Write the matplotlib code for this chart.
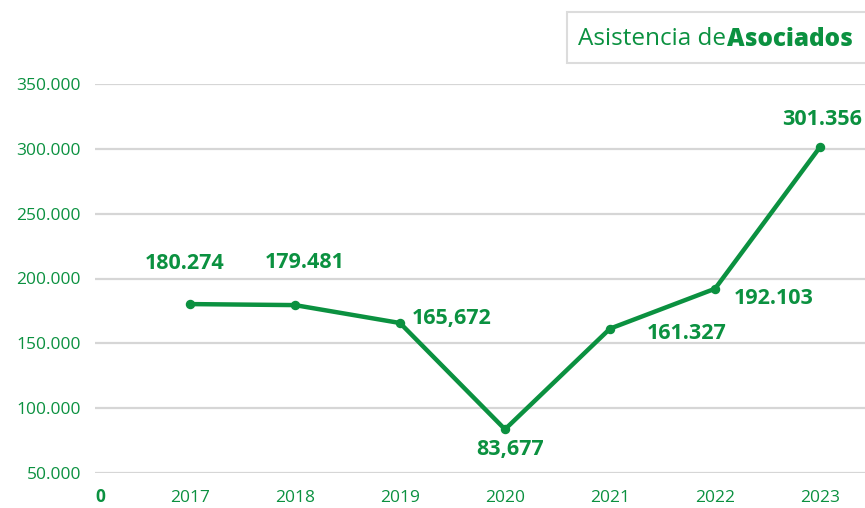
import matplotlib
matplotlib.use("Agg")
import matplotlib.pyplot as plt
from matplotlib.patches import Rectangle

plt.rcParams['font.family'] = ['Open Sans', 'DejaVu Sans']

years = [2017, 2018, 2019, 2020, 2021, 2022, 2023]
values = [180274, 179481, 165672, 83677, 161327, 192103, 301356]
value_labels = ["180.274", "179.481", "165,672", "83,677", "161.327", "192.103", "301.356"]
y_ticks = [50000, 100000, 150000, 200000, 250000, 300000, 350000]
y_tick_labels = ["50.000", "100.000", "150.000", "200.000", "250.000", "300.000", "350.000"]
title_regular = "Asistencia de"
title_bold = "Asociados"

GREEN = "#0b9140"
W, H = 865, 508
fig = plt.figure(figsize=(W / 100, H / 100), dpi=100)

left, right = 95, 865
top_px, bot_px = 84, 473
ax = fig.add_axes([left / W, 1 - bot_px / H, (right - left) / W, (bot_px - top_px) / H])
ax.set_ylim(50000, 350000)
sp = 105
ax.set_xlim(2017 - (190 - left) / sp, 2023 + (right - 820) / sp)

ax.set_yticks(y_ticks)
ax.set_yticklabels(y_tick_labels)
ax.set_xticks(years)
ax.set_xticklabels([str(y) for y in years])
ax.tick_params(axis='both', length=0, labelcolor=GREEN, labelsize=12.5)
ax.tick_params(axis='y', pad=10)
ax.tick_params(axis='x', pad=12)
for s in ax.spines.values():
    s.set_visible(False)
ax.grid(axis='y', color='#d6d6d6', linewidth=1.6)
ax.set_axisbelow(True)

ax.plot(years, values, color=GREEN, linewidth=3.2, marker='o', markersize=5.8,
        solid_capstyle='round', clip_on=False, zorder=3)

offsets = [(-5, 41), (10, 43), (52, 5), (5, -20), (77, -5), (59, -10), (2, 28)]
for x, v, lab, off in zip(years, values, value_labels, offsets):
    ax.annotate(lab, (x, v), xytext=off, textcoords='offset pixels',
                ha='center', va='center', color=GREEN, fontsize=15.5,
                fontweight='bold', annotation_clip=False)

fig.text(100 / W, 1 - 497 / H, "0", color=GREEN, fontsize=12.5, fontweight='bold',
         ha='center', va='center')

fig.patches.append(Rectangle((567 / W, 1 - 63 / H), (W - 567 + 5) / W, 51 / H,
                             transform=fig.transFigure, facecolor='white',
                             edgecolor='#dcdcdc', linewidth=1.5))
t1 = fig.text(578 / W, 1 - 39 / H, title_regular, color=GREEN, fontsize=17.5,
              ha='left', va='center')
fig.canvas.draw()
bb = t1.get_window_extent()
fig.text((bb.x1 + 1) / W, 1 - 39 / H, title_bold, color=GREEN, fontsize=17.5,
         fontweight='heavy', ha='left', va='center')

fig.savefig("out.png", dpi=100)
